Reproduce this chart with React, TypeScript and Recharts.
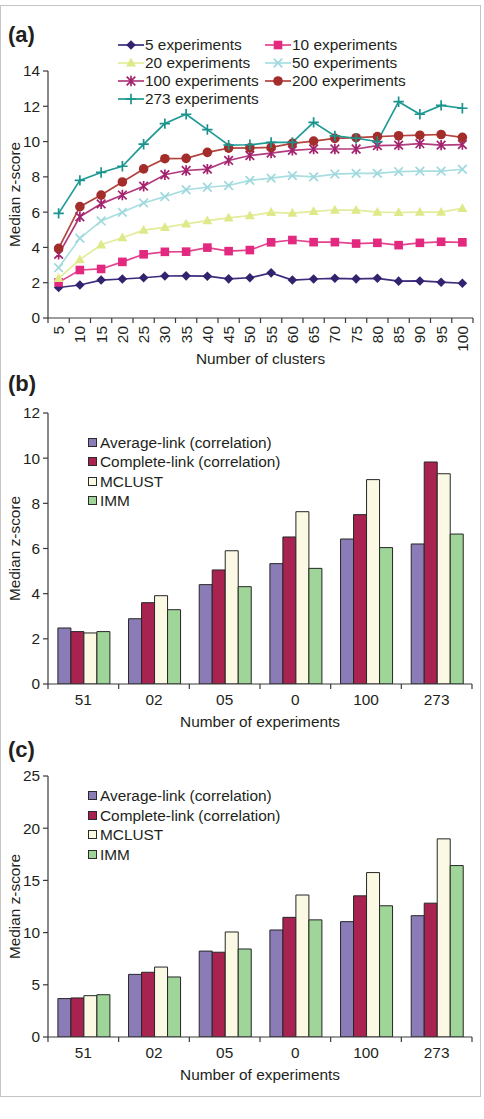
import React from 'react';
import { LineChart, Line, BarChart, Bar, XAxis, YAxis, Legend, Label } from 'recharts';

const FONT = '"Liberation Sans", Arial, Helvetica, sans-serif';
const INK = '#231f20';
const AXIS = '#3a3a3a';
const FS = 15.4;

// ---------- Panel (a): median z-score vs. number of clusters ----------
const clusterCounts = [5, 10, 15, 20, 25, 30, 35, 40, 45, 50, 55, 60, 65, 70, 75, 80, 85, 90, 95, 100];
const exp5 = [1.73, 1.87, 2.15, 2.21, 2.28, 2.38, 2.39, 2.37, 2.22, 2.28, 2.56, 2.15, 2.21, 2.25, 2.22, 2.25, 2.09, 2.1, 2.03, 1.97];
const exp10 = [2.02, 2.72, 2.78, 3.18, 3.61, 3.75, 3.76, 3.99, 3.79, 3.85, 4.29, 4.42, 4.3, 4.3, 4.22, 4.26, 4.13, 4.26, 4.32, 4.29];
const exp20 = [2.25, 3.31, 4.15, 4.55, 4.98, 5.14, 5.33, 5.52, 5.67, 5.8, 5.99, 5.95, 6.04, 6.12, 6.11, 6.0, 5.98, 6.0, 6.0, 6.21];
const exp50 = [2.85, 4.52, 5.5, 5.99, 6.52, 6.88, 7.27, 7.41, 7.51, 7.8, 7.93, 8.07, 8.0, 8.16, 8.2, 8.2, 8.3, 8.32, 8.32, 8.43];
const exp100 = [3.61, 5.74, 6.47, 6.97, 7.47, 8.12, 8.36, 8.44, 8.93, 9.21, 9.35, 9.5, 9.58, 9.58, 9.58, 9.77, 9.8, 9.88, 9.8, 9.83];
const exp200 = [3.95, 6.31, 6.97, 7.71, 8.45, 9.03, 9.05, 9.39, 9.63, 9.64, 9.67, 9.9, 10.03, 10.18, 10.22, 10.28, 10.33, 10.36, 10.4, 10.24];
const exp273 = [5.93, 7.8, 8.25, 8.6, 9.85, 11.02, 11.55, 10.68, 9.8, 9.82, 9.95, 9.95, 11.09, 10.32, 10.19, 10.0, 12.26, 11.55, 12.05, 11.89];
const lineTicks = [0, 2, 4, 6, 8, 10, 12, 14];

type SeriesDef = { key: string; name: string; values: number[]; color: string; line: string; shape: string };
const lineSeries: SeriesDef[] = [
  { key: 'e5', name: '5 experiments', values: exp5, color: '#33236f', line: '#3d2c7c', shape: 'diamond' },
  { key: 'e10', name: '10 experiments', values: exp10, color: '#e2287f', line: '#e4448f', shape: 'square' },
  { key: 'e20', name: '20 experiments', values: exp20, color: '#dfe98a', line: '#e3ec9a', shape: 'triangle' },
  { key: 'e50', name: '50 experiments', values: exp50, color: '#9fd9dd', line: '#a9dee1', shape: 'x' },
  { key: 'e100', name: '100 experiments', values: exp100, color: '#a3226d', line: '#b23a7e', shape: 'asterisk' },
  { key: 'e200', name: '200 experiments', values: exp200, color: '#a22d2b', line: '#b3433f', shape: 'circle' },
  { key: 'e273', name: '273 experiments', values: exp273, color: '#1a938d', line: '#1f9a94', shape: 'plus' },
];

const lineData = clusterCounts.map((c, i) => {
  const row: Record<string, number | string> = { clusters: String(c) };
  lineSeries.forEach((s) => {
    row[s.key] = s.values[i];
  });
  return row;
});

// ---------- Panels (b) and (c): median z-score vs. number of experiments ----------
const experimentLabels = ['51', '02', '05', '0', '100', '273'];
const avgLinkB = [2.48, 2.89, 4.4, 5.33, 6.42, 6.2];
const completeLinkB = [2.32, 3.6, 5.05, 6.51, 7.5, 9.83];
const mclustB = [2.26, 3.91, 5.9, 7.63, 9.05, 9.31];
const immB = [2.32, 3.29, 4.31, 5.12, 6.04, 6.64];
const barTicksB = [0, 2, 4, 6, 8, 10, 12];

const avgLinkC = [3.68, 6.0, 8.23, 10.25, 11.05, 11.62];
const completeLinkC = [3.74, 6.2, 8.12, 11.46, 13.52, 12.82];
const mclustC = [3.96, 6.7, 10.06, 13.6, 15.75, 18.98];
const immC = [4.05, 5.75, 8.43, 11.22, 12.57, 16.42];
const barTicksC = [0, 5, 10, 15, 20, 25];

type BarDef = { key: string; name: string; color: string };
const barSeries: BarDef[] = [
  { key: 'avg', name: 'Average-link (correlation)', color: '#8b7cb7' },
  { key: 'complete', name: 'Complete-link (correlation)', color: '#a8234f' },
  { key: 'mclust', name: 'MCLUST', color: '#fbf8e3' },
  { key: 'imm', name: 'IMM', color: '#a0d59a' },
];

const makeBarData = (a: number[], c: number[], m: number[], im: number[]) =>
  experimentLabels.map((label, i) => ({ label, avg: a[i], complete: c[i], mclust: m[i], imm: im[i] }));

const barDataB = makeBarData(avgLinkB, completeLinkB, mclustB, immB);
const barDataC = makeBarData(avgLinkC, completeLinkC, mclustC, immC);

// ---------- shared drawing helpers ----------
function Marker({ shape, x, y, color }: { shape: string; x: number; y: number; color: string }) {
  switch (shape) {
    case 'diamond':
      return <polygon points={`${x},${y - 4.8} ${x + 4.8},${y} ${x},${y + 4.8} ${x - 4.8},${y}`} fill={color} />;
    case 'square':
      return <rect x={x - 4.3} y={y - 4.3} width={8.6} height={8.6} fill={color} />;
    case 'triangle':
      return <polygon points={`${x},${y - 5.2} ${x + 5},${y + 3.6} ${x - 5},${y + 3.6}`} fill={color} />;
    case 'x':
      return (
        <path d={`M${x - 4.3},${y - 4.3}L${x + 4.3},${y + 4.3}M${x - 4.3},${y + 4.3}L${x + 4.3},${y - 4.3}`} stroke={color} strokeWidth={1.7} />
      );
    case 'asterisk':
      return (
        <path
          d={`M${x - 4.3},${y - 4.3}L${x + 4.3},${y + 4.3}M${x - 4.3},${y + 4.3}L${x + 4.3},${y - 4.3}M${x},${y - 5.2}L${x},${y + 5.2}`}
          stroke={color}
          strokeWidth={1.7}
        />
      );
    case 'circle':
      return <circle cx={x} cy={y} r={4.8} fill={color} />;
    case 'plus':
      return <path d={`M${x - 5.2},${y}L${x + 5.2},${y}M${x},${y - 5.2}L${x},${y + 5.2}`} stroke={color} strokeWidth={1.7} />;
    default:
      return null;
  }
}

const makeDot = (s: SeriesDef) => (p: any) => {
  const k = `${s.key}-${p.index}`;
  if (p.cx == null || p.cy == null) return <g key={k} />;
  return (
    <g key={k}>
      <Marker shape={s.shape} x={p.cx} y={p.cy} color={s.color} />
    </g>
  );
};

const yTitle = (props: any) => {
  const vb = props.viewBox || {};
  const cy = vb.y + vb.height / 2;
  return (
    <text
      x={14}
      y={cy}
      transform={`rotate(-90 14 ${cy})`}
      textAnchor="middle"
      dominantBaseline="central"
      fill={INK}
      fontSize={FS}
      fontFamily={FONT}
    >
      Median z-score
    </text>
  );
};

const xTitle = (text: string, dy: number) => (props: any) => {
  const vb = props.viewBox || {};
  return (
    <text x={vb.x + vb.width / 2} y={vb.y + dy} textAnchor="middle" fill={INK} fontSize={FS} fontFamily={FONT}>
      {text}
    </text>
  );
};

// Category tick: label at band centre, tick mark on the band boundary.
const makeCategoryTick = (axisY: number, half: number, count: number, rotated: boolean) => (props: any) => {
  const { x, payload } = props;
  const idx = props.index ?? payload?.index ?? 0;
  return (
    <g>
      <line x1={x - half} x2={x - half} y1={axisY} y2={axisY + 5} stroke={AXIS} strokeWidth={1.2} />
      {idx === count - 1 && <line x1={x + half} x2={x + half} y1={axisY} y2={axisY + 5} stroke={AXIS} strokeWidth={1.2} />}
      {rotated ? (
        <text
          x={x + 5.5}
          y={axisY + 8}
          transform={`rotate(-90 ${x + 5.5} ${axisY + 8})`}
          textAnchor="end"
          fill={INK}
          fontSize={FS}
          fontFamily={FONT}
        >
          {payload.value}
        </text>
      ) : (
        <text x={x} y={axisY + 21} textAnchor="middle" fill={INK} fontSize={FS} fontFamily={FONT}>
          {payload.value}
        </text>
      )}
    </g>
  );
};

const LineLegend = () => (
  <div style={{ position: 'relative', width: 340, height: 72, fontFamily: FONT, fontSize: FS, color: INK }}>
    {lineSeries.map((s, i) => {
      const col = i % 2;
      const row = Math.floor(i / 2);
      return (
        <div
          key={s.key}
          style={{ position: 'absolute', left: col * 147, top: row * 18, height: 18, display: 'flex', alignItems: 'center', whiteSpace: 'nowrap' }}
        >
          <svg width={26} height={14} style={{ display: 'block' }}>
            <line x1={0} x2={26} y1={7} y2={7} stroke={s.line} strokeWidth={1.7} />
            <Marker shape={s.shape} x={13} y={7} color={s.color} />
          </svg>
          <span style={{ marginLeft: 1, lineHeight: '18px' }}>{s.name}</span>
        </div>
      );
    })}
  </div>
);

const BarLegend = () => (
  <div style={{ width: 300, fontFamily: FONT, fontSize: FS, color: INK }}>
    {barSeries.map((s) => (
      <div key={s.key} style={{ height: 19.5, display: 'flex', alignItems: 'center', whiteSpace: 'nowrap' }}>
        <div style={{ width: 9, height: 9, boxSizing: 'border-box', background: s.color, border: '1px solid #2a2a2a' }} />
        <span style={{ marginLeft: 3, lineHeight: '19.5px' }}>{s.name}</span>
      </div>
    ))}
  </div>
);

const yTick = { fill: INK, fontSize: FS, fontFamily: FONT };

type BarPanelProps = {
  data: any[];
  ticks: number[];
  max: number;
  plotTop: number;
  plotH: number;
  height: number;
  legendTop: number;
};

function BarPanel({ data, ticks, max, plotTop, plotH, height, legendTop }: BarPanelProps) {
  const half = (472 - 48) / experimentLabels.length / 2;
  return (
    <BarChart
      width={484}
      height={height}
      data={data}
      margin={{ top: plotTop, right: 12, bottom: 0, left: 0 }}
      barCategoryGap="14%"
      barGap={0}
    >
      <XAxis
        dataKey="label"
        height={height - plotTop - plotH}
        axisLine={{ stroke: AXIS, strokeWidth: 1.2 }}
        tickLine={false}
        interval={0}
        tick={makeCategoryTick(plotTop + plotH, half, experimentLabels.length, false)}
      >
        <Label content={xTitle('Number of experiments', 42.5)} />
      </XAxis>
      <YAxis
        width={48}
        domain={[0, max]}
        ticks={ticks}
        allowDataOverflow
        axisLine={{ stroke: AXIS, strokeWidth: 1.2 }}
        tickLine={{ stroke: AXIS, strokeWidth: 1.2 }}
        tickSize={5}
        tickMargin={3}
        tick={yTick}
      >
        <Label content={yTitle} />
      </YAxis>
      <Legend
        layout="vertical"
        align="center"
        verticalAlign="middle"
        width={300}
        content={BarLegend}
        wrapperStyle={{ left: 88, top: legendTop }}
      />
      {barSeries.map((s) => (
        <Bar key={s.key} dataKey={s.key} name={s.name} fill={s.color} stroke="#262626" strokeWidth={1} isAnimationActive={false} />
      ))}
    </BarChart>
  );
}

export default function App() {
  const halfA = (473 - 48) / clusterCounts.length / 2;
  return (
    <div style={{ position: 'absolute', left: 0, top: 0, width: 484, height: 1119, background: '#fff' }}>
      <div
        style={{ position: 'absolute', left: 0, top: 5, width: 481, height: 1092, boxSizing: 'border-box', border: '1px solid #c4c4c4' }}
      />

      {/* (a) line chart */}
      <div style={{ position: 'absolute', left: 0, top: 0 }}>
        <LineChart width={484} height={375} data={lineData} margin={{ top: 71, right: 11, bottom: 0, left: 0 }}>
          <XAxis
            dataKey="clusters"
            height={57}
            padding={{ left: halfA, right: halfA }}
            axisLine={{ stroke: AXIS, strokeWidth: 1.2 }}
            tickLine={false}
            interval={0}
            tick={makeCategoryTick(318, halfA, clusterCounts.length, true)}
          >
            <Label content={xTitle('Number of clusters', 46)} />
          </XAxis>
          <YAxis
            width={48}
            domain={[0, 14]}
            ticks={lineTicks}
            axisLine={{ stroke: AXIS, strokeWidth: 1.2 }}
            tickLine={{ stroke: AXIS, strokeWidth: 1.2 }}
            tickSize={5}
            tickMargin={3}
            tick={yTick}
          >
            <Label content={yTitle} />
          </YAxis>
          <Legend
            layout="vertical"
            align="center"
            verticalAlign="middle"
            width={340}
            content={LineLegend}
            wrapperStyle={{ left: 118, top: 36 }}
          />
          {lineSeries.map((s) => (
            <Line
              key={s.key}
              dataKey={s.key}
              name={s.name}
              stroke={s.line}
              strokeWidth={1.7}
              dot={makeDot(s)}
              activeDot={false}
              isAnimationActive={false}
            />
          ))}
        </LineChart>
      </div>

      {/* (b) bar chart */}
      <div style={{ position: 'absolute', left: 0, top: 378 }}>
        <BarPanel data={barDataB} ticks={barTicksB} max={12} plotTop={35} plotH={271} height={356} legendTop={54.5} />
      </div>

      {/* (c) bar chart */}
      <div style={{ position: 'absolute', left: 0, top: 748 }}>
        <BarPanel data={barDataC} ticks={barTicksC} max={25} plotTop={28} plotH={261} height={340} legendTop={38} />
      </div>

      <svg width={484} height={1119} style={{ position: 'absolute', left: 0, top: 0, pointerEvents: 'none' }}>
        <text x={8} y={42} fontFamily={FONT} fontWeight="bold" fontSize={22} fill={INK}>
          (a)
        </text>
        <text x={8} y={391} fontFamily={FONT} fontWeight="bold" fontSize={22} fill={INK}>
          (b)
        </text>
        <text x={8} y={757} fontFamily={FONT} fontWeight="bold" fontSize={22} fill={INK}>
          (c)
        </text>
      </svg>
    </div>
  );
}
